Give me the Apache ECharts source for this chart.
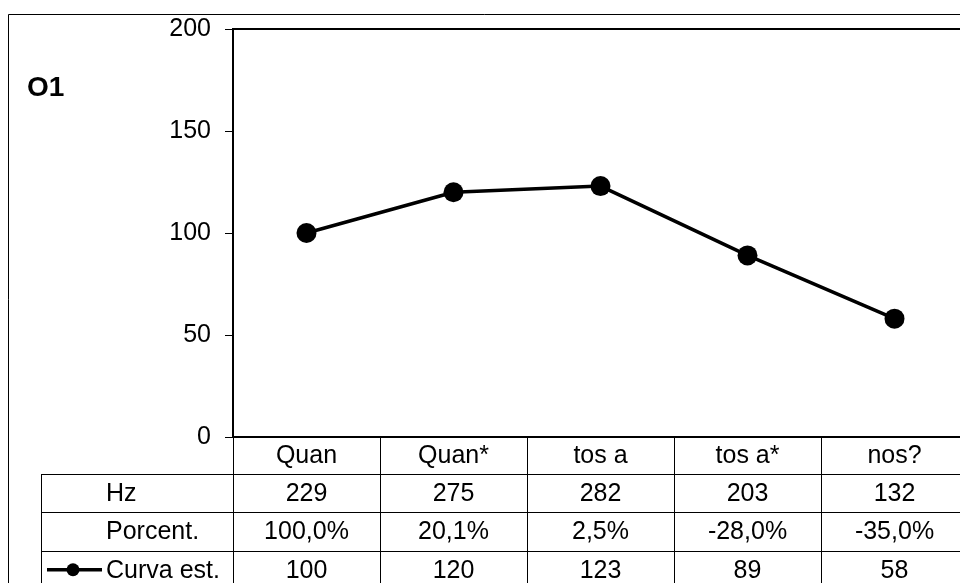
<!DOCTYPE html>
<html><head><meta charset="utf-8">
<script src="https://cdn.jsdelivr.net/npm/echarts@6/dist/echarts.min.js"></script>
<style>html,body{margin:0;padding:0;background:#fff}#c{width:960px;height:583px}</style>
</head><body><div id="c"></div>
<script>
// ---- data ----
const categories = ['Quan', 'Quan*', 'tos a', 'tos a*', 'nos?'];
const hzValues = ['229', '275', '282', '203', '132'];
const percentValues = ['100,0%', '20,1%', '2,5%', '-28,0%', '-35,0%'];
const curveValues = [100, 120, 123, 89, 58];
const rowLabels = ['Hz', 'Porcent.', 'Curva est.'];
const chartTitle = 'O1';
const yMin = 0, yMax = 200, yStep = 50;

const FONT = '"Liberation Sans", Arial, sans-serif';
const FS = 25;
const chart = echarts.init(document.getElementById('c'), null, {renderer: 'canvas'});
const G = {left: 233, top: 29, width: 735, height: 408};

chart.setOption({
  animation: false,
  backgroundColor: '#fff',
  grid: {left: G.left, top: G.top, width: G.width, height: G.height, show: true,
         borderColor: '#000', borderWidth: 2, containLabel: false, outerBoundsMode: 'none'},
  xAxis: {type: 'category', data: categories, boundaryGap: true,
          axisLine: {show: true, lineStyle: {color: '#000', width: 2}},
          axisTick: {show: false}, axisLabel: {show: false}, splitLine: {show: false}},
  yAxis: {type: 'value', min: yMin, max: yMax, interval: yStep,
          axisLine: {show: true, lineStyle: {color: '#000', width: 2}},
          axisTick: {show: true, length: 8, lineStyle: {color: '#000', width: 1}},
          axisLabel: {color: '#000', fontFamily: FONT, fontSize: FS, margin: 22},
          splitLine: {show: false}},
  series: [{name: rowLabels[2], type: 'line', data: curveValues,
            symbol: 'circle', symbolSize: 20,
            lineStyle: {color: '#000', width: 3.5},
            itemStyle: {color: '#000'}}]
});

// ---- data table, positioned from the category axis ----
const c0 = chart.convertToPixel({xAxisIndex: 0}, 0);
const c1 = chart.convertToPixel({xAxisIndex: 0}, 1);
const colW = c1 - c0;
const y0 = chart.convertToPixel({yAxisIndex: 0}, 0);
const rowH = 38.3;
const rowTops = [y0, y0 + 37, y0 + 37 + rowH, y0 + 37 + 2 * rowH, y0 + 37 + 3 * rowH];
const tableLeft = 41;
const labelX = 106;
const tableRight = c0 - colW / 2 + colW * categories.length;
const els = [];
const ln = (x1, y1, x2, y2, w, col) => els.push({type: 'line', silent: true,
  shape: {x1, y1, x2, y2}, style: {stroke: col || '#000', lineWidth: w || 1}});
const tx = (x, y, text, align) => els.push({type: 'text', silent: true, x, y,
  style: {text, fill: '#000', font: FS + 'px ' + FONT, align: align || 'center', verticalAlign: 'middle'}});

// outer chart border
els.push({type: 'rect', silent: true, shape: {x: 8.5, y: 14.5, width: 1100, height: 800},
  style: {fill: null, stroke: '#000', lineWidth: 1}});
// horizontal lines
for (let r = 1; r < rowTops.length; r++) ln(tableLeft, Math.round(rowTops[r]) + 0.5, tableRight + 2, Math.round(rowTops[r]) + 0.5);
// vertical lines
for (let k = 0; k <= categories.length; k++) {
  const x = Math.round(c0 - colW / 2 + colW * k) + 0.5;
  ln(x, y0, x, 620);
}
ln(tableLeft + 0.5, rowTops[1], tableLeft + 0.5, 620);
// header & values
const rows = [hzValues, percentValues, curveValues.map(String)];
categories.forEach((cat, i) => {
  const cx = chart.convertToPixel({xAxisIndex: 0}, i);
  tx(cx, (rowTops[0] + rowTops[1]) / 2 + 1, cat);
  rows.forEach((vals, r) => tx(cx, (rowTops[r + 1] + rowTops[r + 2]) / 2 + 1, vals[i]));
});
rowLabels.forEach((lab, r) => tx(labelX, (rowTops[r + 1] + rowTops[r + 2]) / 2 + 1, lab, 'left'));
// legend key in the last row
const ky = (rowTops[3] + rowTops[4]) / 2;
ln(47, ky, 102, ky, 3.5);
els.push({type: 'circle', silent: true, shape: {cx: 73, cy: ky, r: 6.5}, style: {fill: '#000'}});
// chart title
els.push({type: 'text', silent: true, x: 27, y: 88, style: {text: chartTitle, fill: '#000',
  font: 'bold 28px ' + FONT, align: 'left', verticalAlign: 'middle'}});

chart.setOption({graphic: {elements: els}});
</script></body></html>
